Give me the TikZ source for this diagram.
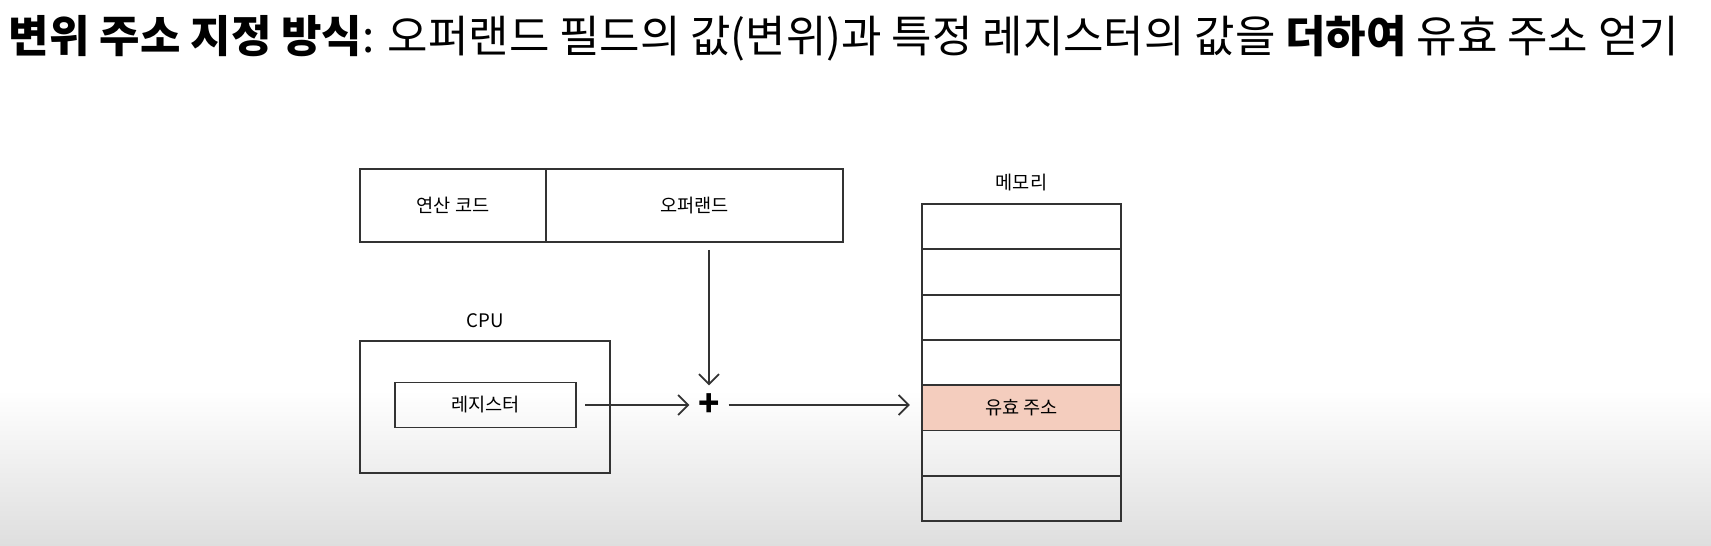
\documentclass[tikz,border=0pt]{standalone}
\usepackage{fontspec}
\newfontfamily\kr{Noto Sans CJK KR}
\usepackage{tikz}
\usetikzlibrary{arrows.meta,positioning,calc}
\definecolor{memhi}{HTML}{F4CDBE}
\definecolor{inkline}{HTML}{333333}
\definecolor{fadegray}{HTML}{DEDEDE}

\begin{document}
\begin{tikzpicture}[x=0.01cm, y=-0.01cm,
  cell/.style={draw=inkline, line width=0.55pt, inner sep=0pt, font=\kr\fontsize{5.3pt}{6pt}\selectfont},
  lab/.style={inner sep=0pt, font=\kr\fontsize{5.3pt}{6pt}\selectfont},
  memrow/.style={cell, minimum width=1.99cm, minimum height=0.453cm},
  flow/.style={draw=inkline, line width=0.5pt, -{Straight Barb[length=1mm,width=2mm]}}
]
\useasboundingbox (0,0) rectangle (1711,546);
\fill[top color=white, bottom color=fadegray] (0,390) rectangle (1711,546);

\node[anchor=west, inner sep=0pt, font=\kr\fontsize{12.5pt}{15pt}\selectfont] (title) at (8,38)
  {{\bfseries 변위 주소 지정 방식}: 오퍼랜드 필드의 값(변위)과 특정 레지스터의 값을 {\bfseries 더하여} 유효 주소 얻기};

\node[cell, minimum width=1.86cm, minimum height=0.73cm] (opcode) at (453,205.5) {연산 코드};
\node[cell, minimum width=2.97cm, minimum height=0.73cm] (operand) at (694.5,205.5) {오퍼랜드};

\node[cell, minimum width=2.50cm, minimum height=1.32cm] (cpu) at (485,407) {};
\node[lab, above=0.12cm of cpu] (cpulabel) {CPU};
\node[cell, minimum width=1.81cm, minimum height=0.45cm] (reg) at (485.5,405) {레지스터};

\node[circle, minimum size=0.38cm, inner sep=0pt, font=\kr\bfseries\fontsize{10pt}{10pt}\selectfont] (plus) at (709,405) {+};

\foreach \i in {1,2,3,4,6,7} {
  \node[memrow] (mem\i) at (1021.5,181.35+45.3*\i) {};
}
\node[memrow, fill=memhi] (mem5) at (1021.5,181.35+45.3*5) {유효 주소};
\node[lab, above=0.11cm of mem1] (memlabel) {메모리};

\draw[flow, shorten <=0.07cm] (operand.south -| plus) -- (plus.north);
\draw[flow, shorten <=0.08cm] (reg.east) -- (plus.west);
\draw[flow, shorten >=0.11cm] (plus.east) -- (plus.east -| mem5.west);
\end{tikzpicture}
\end{document}
